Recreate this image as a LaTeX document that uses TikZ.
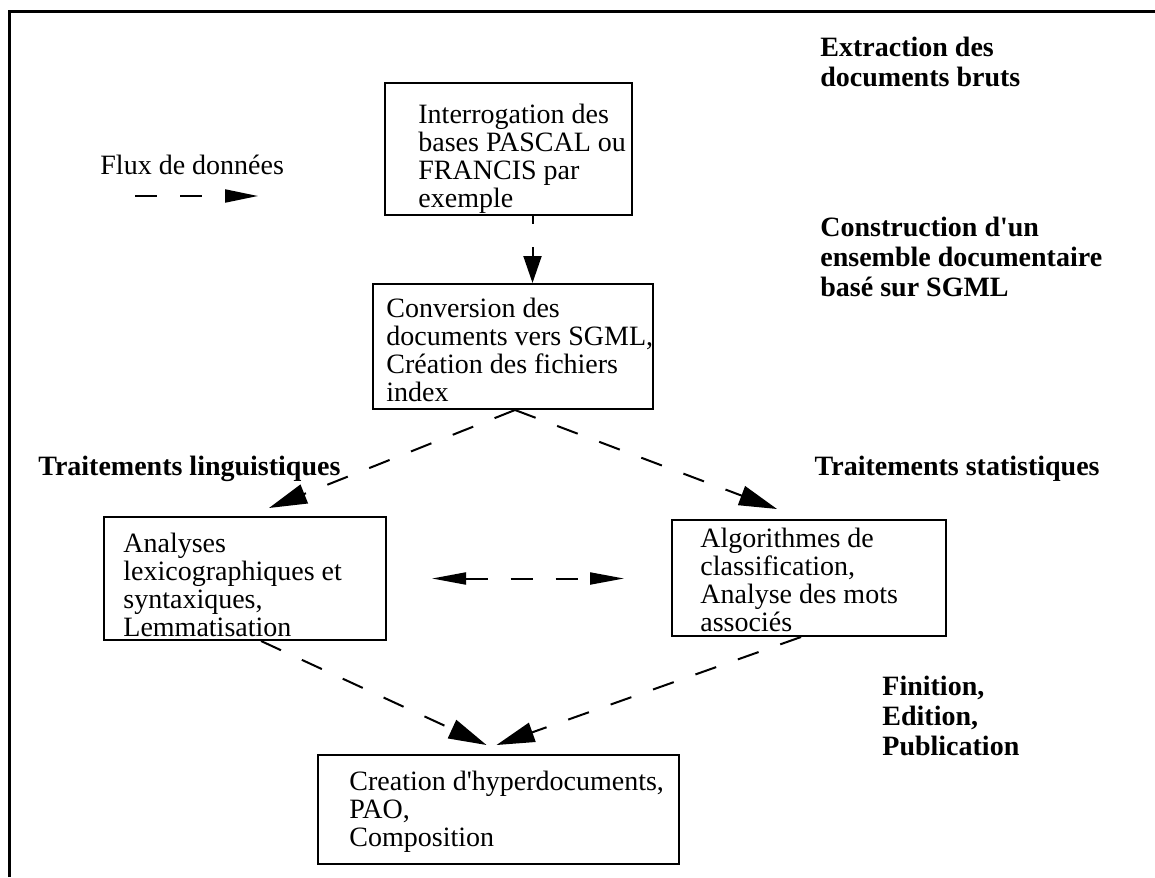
\documentclass[tikz,border=0pt]{standalone}
\usepackage{fontspec}
\setmainfont{Liberation Serif}
\usetikzlibrary{arrows.meta,calc}
\tikzset{
  box/.style={draw, line width=1pt, anchor=north west, inner sep=0pt},
  boxtext/.style={anchor=north west, align=left, inner sep=0pt,
    font=\fontsize{14}{14}\selectfont},
  stage/.style={anchor=north west, align=left, inner sep=0pt,
    font=\fontsize{14}{15}\selectfont\bfseries},
  dashline/.style={line width=1pt, dash pattern=on 11pt off 11.5pt},
  flow/.style={dashline, -{Triangle[length=16.5pt,width=6.5pt]}},
  bigflow/.style={dashline, -{Triangle[length=19pt,width=10pt]}},
  downflow/.style={dashline, -{Triangle[length=13.5pt,width=9pt]}},
  both/.style={dashline,
    {Triangle[length=17pt,width=6pt]}-{Triangle[length=17pt,width=6pt]}}
}
\begin{document}
\begin{tikzpicture}[x=0.5pt,y=-0.5pt]
  \useasboundingbox (0,0) rectangle (1155,877);
  % frame
  \draw[line width=1.5pt] (9,877) -- (9,12) -- (1155,12);

  % boxes
  \node[box, minimum width=123.5pt, minimum height=66pt] (src) at (384,82) {};
  \node[box, minimum width=140pt, minimum height=62.5pt] (sgml) at (372,283) {};
  \node[box, minimum width=141pt, minimum height=61.5pt] (ling) at (103,516) {};
  \node[box, minimum width=137pt, minimum height=58pt] (stat) at (671,519) {};
  \node[box, minimum width=180.5pt, minimum height=54.5pt] (pub) at (317,754) {};

  \node[boxtext] (srctext) at (418,104) {Interrogation des\\bases PASCAL ou\\FRANCIS par\\exemple};
  \node[boxtext] (sgmltext) at (386,298) {Conversion des\\documents vers SGML,\\Création des fichiers\\index};
  \node[boxtext] (lingtext) at (123,533) {Analyses\\lexicographiques et\\syntaxiques,\\Lemmatisation};
  \node[boxtext] (stattext) at (700,528) {Algorithmes de\\classification,\\Analyse des mots\\associés};
  \node[boxtext] (pubtext) at (349,771) {Creation d\textquotesingle hyperdocuments,\\PAO,\\Composition};

  % stage labels
  \node[stage] (extract) at (820,37) {Extraction des\\documents bruts};
  \node[stage] (build) at (820,217) {Construction d\textquotesingle un\\ensemble documentaire\\basé sur SGML};
  \node[stage, anchor=west] (linglabel) at (38,469) {Traitements linguistiques};
  \node[stage, anchor=east] (statlabel) at (1100,469) {Traitements statistiques};
  \node[stage] (finish) at (882,676) {Finition,\\Edition,\\Publication};

  % legend
  \node[anchor=west, inner sep=0pt, font=\fontsize{14}{15}\selectfont] (fluxlabel) at (100,165) {Flux de données};
  \coordinate (fluxa) at (135,196);
  \coordinate (fluxb) at (258,196);
  \draw[flow] (fluxa) -- (fluxb);

  % data flow
  \draw[downflow, dash phase=7pt] ([xshift=12pt]src.south) -- ([xshift=12pt]src.south |- sgml.north);
  \draw[bigflow] ([xshift=1pt]sgml.south) -- ([xshift=12pt,yshift=4pt]ling.north);
  \draw[bigflow] ([xshift=1pt]sgml.south) -- ([xshift=-16pt,yshift=5pt]stat.north);
  \draw[bigflow] ([xshift=8pt]ling.south) -- ([xshift=-6pt,yshift=4.5pt]pub.north);
  \draw[bigflow] ([xshift=-4pt]stat.south) -- ([xshift=-1pt,yshift=4.5pt]pub.north);
  \draw[both, shorten <=22.5pt, shorten >=23.5pt] (ling.east) -- (ling.east -| stat.west);
\end{tikzpicture}
\end{document}
